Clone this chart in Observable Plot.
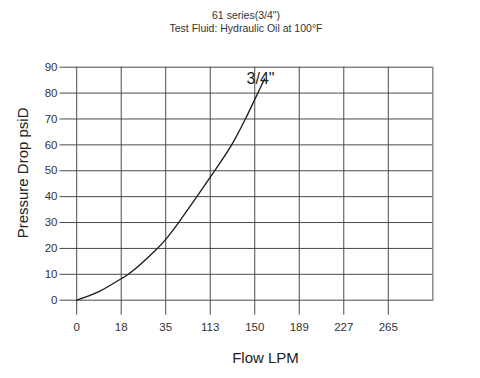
<!DOCTYPE html>
<html>
<head>
<meta charset="utf-8">
<script src="https://cdn.jsdelivr.net/npm/d3@7"></script>
<script src="https://cdn.jsdelivr.net/npm/@observablehq/plot@0.6"></script>
<style>
  html, body { margin: 0; padding: 0; background: #fff; }
  body { width: 480px; height: 378px; overflow: hidden; font-family: "Liberation Sans", Arial, sans-serif; }
  #title { height: 33px; box-sizing: border-box; padding-top: 9.4px; padding-left: 12px; line-height: 13px; font-size: 10.5px; color: #333; text-align: center; overflow: visible; white-space: nowrap; }
  #chart svg { display: block; }
</style>
</head>
<body>
<div id="title"><div>61 series(3/4")</div><div>Test Fluid: Hydraulic Oil at 100°F</div></div>
<div id="chart"></div>
<script>
// Axis tick labels (flow, LPM) — equally spaced on the axis
const flowTicks = [0, 18, 35, 113, 150, 189, 227, 265];
const pressureTicks = [0, 10, 20, 30, 40, 50, 60, 70, 80, 90];

// 3/4" curve (flow in LPM, pressure drop in psiD)
const curveFlow     = [0, 9, 18, 20.7, 31.8, 35, 57.6, 89.6, 113, 130.8, 142.2, 150, 152.7, 158.6];
const curvePressure = [0, 3.3, 8.3, 10, 20, 23.5, 30, 40, 47.5, 60, 70, 77.5, 80, 85.5];
const seriesName = '3/4"';

// axis is equally spaced between the tick labels: map flow to tick position
const flowToPos = d3.scaleLinear(flowTicks, d3.range(flowTicks.length));
const data = curveFlow.map((f, i) => ({pos: flowToPos(f), p: curvePressure[i]}));
const last = data[data.length - 1];

const grid = "#4a4a4a";
const ink = "#333";

const chart = Plot.plot({
  width: 480,
  height: 345,
  marginLeft: 59.5,
  marginRight: 47.7,
  marginTop: 33.7,
  marginBottom: 78.3,
  style: {fontFamily: '"Liberation Sans", Arial, sans-serif', color: ink, background: "#fff"},
  x: {domain: [-0.375, flowTicks.length], axis: null},
  y: {domain: [0, 90], axis: null},
  marks: [
    Plot.ruleY(pressureTicks, {stroke: grid, strokeWidth: 1}),
    Plot.ruleX(d3.range(flowTicks.length), {stroke: grid, strokeWidth: 1}),
    Plot.frame({anchor: "right", stroke: "#8a8a8a", strokeWidth: 1.5}),
    Plot.axisX(d3.range(flowTicks.length), {
      tickFormat: i => flowTicks[i], tickSize: 15, tickPadding: 7.5,
      stroke: grid, fontSize: 11.5, fill: ink, label: null
    }),
    Plot.axisY(pressureTicks, {
      tickSize: 0, tickPadding: 2.5, fontSize: 11.5, fill: ink, label: null
    }),
    Plot.line(data, {x: "pos", y: "p", curve: "catmull-rom", stroke: "#1a1a1a", strokeWidth: 1.3}),
    Plot.text([last], {x: "pos", y: "p", text: () => seriesName, textAnchor: "start", dx: -18, fontSize: 16, fill: "#222"}),
    Plot.text(["Flow LPM"], {frameAnchor: "bottom", textAnchor: "middle", dx: 19.1, dy: 57.5, lineAnchor: "middle", fontSize: 15, fill: "#222"}),
    Plot.text(["Pressure Drop psiD"], {frameAnchor: "left", textAnchor: "middle", rotate: -90, dx: -36.7, dy: -10.8, lineAnchor: "middle", fontSize: 15, fill: "#222"})
  ]
});
document.getElementById("chart").appendChild(chart);
</script>
</body>
</html>
